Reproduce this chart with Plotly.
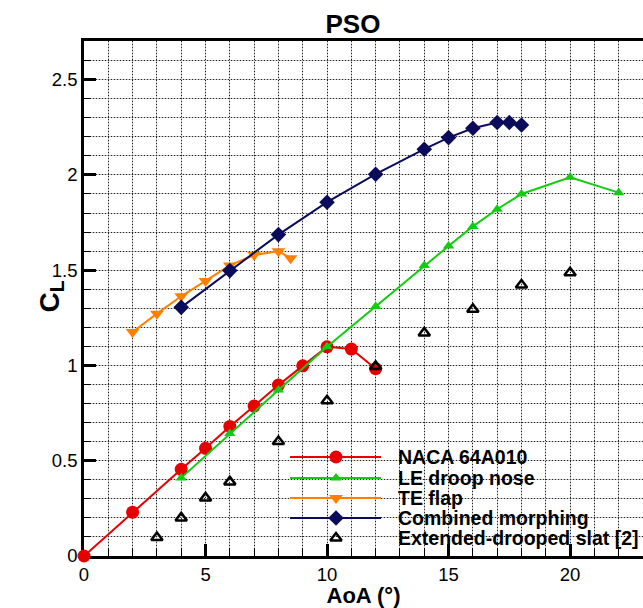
import plotly.graph_objects as go

# Lift coefficient vs angle of attack for the PSO-optimised configurations
aoa_naca = [0, 2, 4, 5, 6, 7, 8, 9, 10, 11, 12]
cl_naca = [0.0, 0.23, 0.455, 0.565, 0.68, 0.787, 0.897, 0.998, 1.098, 1.086, 0.983]

aoa_le = [4, 6, 8, 10, 12, 14, 15, 16, 17, 18, 20, 22]
cl_le = [0.41, 0.643, 0.871, 1.098, 1.31, 1.525, 1.627, 1.73, 1.82, 1.9, 1.988, 1.907]

aoa_te = [2, 3, 4, 5, 6, 7, 8, 8.5]
cl_te = [1.176, 1.272, 1.363, 1.443, 1.525, 1.58, 1.6, 1.563]

aoa_comb = [4, 6, 8, 10, 12, 14, 15, 16, 17, 17.5, 18]
cl_comb = [1.305, 1.498, 1.687, 1.857, 2.004, 2.135, 2.196, 2.245, 2.275, 2.275, 2.262]

aoa_slat = [3, 4, 5, 6, 8, 10, 12, 14, 16, 18, 20]
cl_slat = [0.097, 0.2, 0.305, 0.389, 0.601, 0.815, 0.995, 1.171, 1.295, 1.422, 1.487]

series_names = ["NACA 64A010", "LE droop nose", "TE flap", "Combined morphing",
                "Extended-drooped slat [2]"]

X_RANGE = [0, 23.0]
Y_RANGE = [0, 2.703]

RED = "#e60000"
GREEN = "#11cc11"
ORANGE = "#ff8000"
NAVY = "#0b0b5c"
FONT = "Liberation Sans, Arial, Helvetica, sans-serif"

styles = [
    dict(line=dict(color=RED, width=2), marker=dict(symbol="circle", size=13, color=RED), mode="lines+markers"),
    dict(line=dict(color=GREEN, width=2), marker=dict(symbol="triangle-up", size=10, color=GREEN), mode="lines+markers"),
    dict(line=dict(color=ORANGE, width=2), marker=dict(symbol="triangle-down", size=12, color=ORANGE), mode="lines+markers"),
    dict(line=dict(color=NAVY, width=2), marker=dict(symbol="diamond", size=12, color=NAVY), mode="lines+markers"),
    dict(marker=dict(symbol="triangle-up-open", size=10, color="black", line=dict(width=2.5, color="black")), mode="markers"),
]

data = [(aoa_naca, cl_naca), (aoa_le, cl_le), (aoa_te, cl_te), (aoa_comb, cl_comb), (aoa_slat, cl_slat)]

fig = go.Figure()
for (x, y), name, st in zip(data, series_names, styles):
    fig.add_trace(go.Scatter(x=x, y=y, name=name, showlegend=False, cliponaxis=False, **st))

# Empty trace holding the dotted grid axes (drawn over the solid grey grid)
fig.add_trace(go.Scatter(x=[], y=[], xaxis="x3", yaxis="y3", showlegend=False, hoverinfo="skip"))

# Legend drawn on an overlay axis measured in pixels of the figure
leg_x0, leg_x1, leg_xm, leg_text_x = 290, 381, 336, 396
leg_rows = [457, 478, 498, 518, 538]
for name, st, ry in zip(series_names, styles, leg_rows):
    if "line" in st:
        fig.add_trace(go.Scatter(x=[leg_x0, leg_x1], y=[ry, ry], mode="lines", line=st["line"],
                                 xaxis="x2", yaxis="y2", showlegend=False, hoverinfo="skip"))
    fig.add_trace(go.Scatter(x=[leg_xm], y=[ry], mode="markers", marker=st["marker"],
                             xaxis="x2", yaxis="y2", showlegend=False, hoverinfo="skip"))
    fig.add_annotation(x=leg_text_x, y=ry, xref="x2", yref="y2", text=f"<b>{name}</b>",
                       showarrow=False, xanchor="left", yanchor="middle",
                       font=dict(family=FONT, size=19.5, color="black"))

solid_grid = dict(gridcolor="#c4c4c4", gridwidth=1.2, griddash="solid")
dot_grid = dict(gridcolor="#222222", gridwidth=1, griddash="1px,2px")

fig.update_layout(
    width=643, height=608,
    margin=dict(l=84, r=0, t=41, b=52, pad=0),
    paper_bgcolor="white", plot_bgcolor="white",
    font=dict(family=FONT, size=18, color="black"),
    title=dict(text="<b>PSO</b>", x=353 / 643, xref="container", xanchor="center",
               y=1 - 24 / 608, yref="container", yanchor="middle",
               font=dict(family=FONT, size=26, color="black")),
    xaxis=dict(range=X_RANGE, dtick=5, tick0=0, showline=True, linewidth=2.5, linecolor="black",
               mirror=True, ticks="inside", ticklen=12, tickwidth=3, tickcolor="black",
               showgrid=True, zeroline=False, layer="below traces",
               minor=dict(dtick=1, ticks="inside", ticklen=8, tickwidth=1.2, tickcolor="black",
                          showgrid=True, **solid_grid),
               title=dict(text="<b>AoA (°)</b>", font=dict(family=FONT, size=22), standoff=2),
               tickfont=dict(family=FONT, size=18.5), **solid_grid),
    yaxis=dict(range=Y_RANGE, dtick=0.5, tick0=0, showline=True, linewidth=2.5, linecolor="black",
               mirror=False, ticks="inside", ticklen=12, tickwidth=3, tickcolor="black",
               showgrid=True, zeroline=False, layer="below traces",
               minor=dict(dtick=0.1, ticks="inside", ticklen=7, tickwidth=1.2, tickcolor="black",
                          showgrid=True, **solid_grid),
               tickfont=dict(family=FONT, size=18.5), **solid_grid),
    xaxis3=dict(overlaying="x", range=X_RANGE, dtick=1, showgrid=True, showticklabels=False,
                ticks="", zeroline=False, showline=False, fixedrange=True, **dot_grid),
    yaxis3=dict(overlaying="y", range=Y_RANGE, dtick=0.1, showgrid=True, showticklabels=False,
                ticks="", zeroline=False, showline=False, fixedrange=True, **dot_grid),
    xaxis2=dict(overlaying="x", range=[84, 643], visible=False, fixedrange=True),
    yaxis2=dict(overlaying="y", range=[556, 41], visible=False, fixedrange=True),
)

fig.add_annotation(x=(31 - 84) / 559, y=(556 - 297) / 515, xref="paper", yref="paper",
                   text="<b>C<sub>L</sub></b>", textangle=-90, showarrow=False,
                   font=dict(family=FONT, size=28, color="black"))

fig.write_html("out.html")
